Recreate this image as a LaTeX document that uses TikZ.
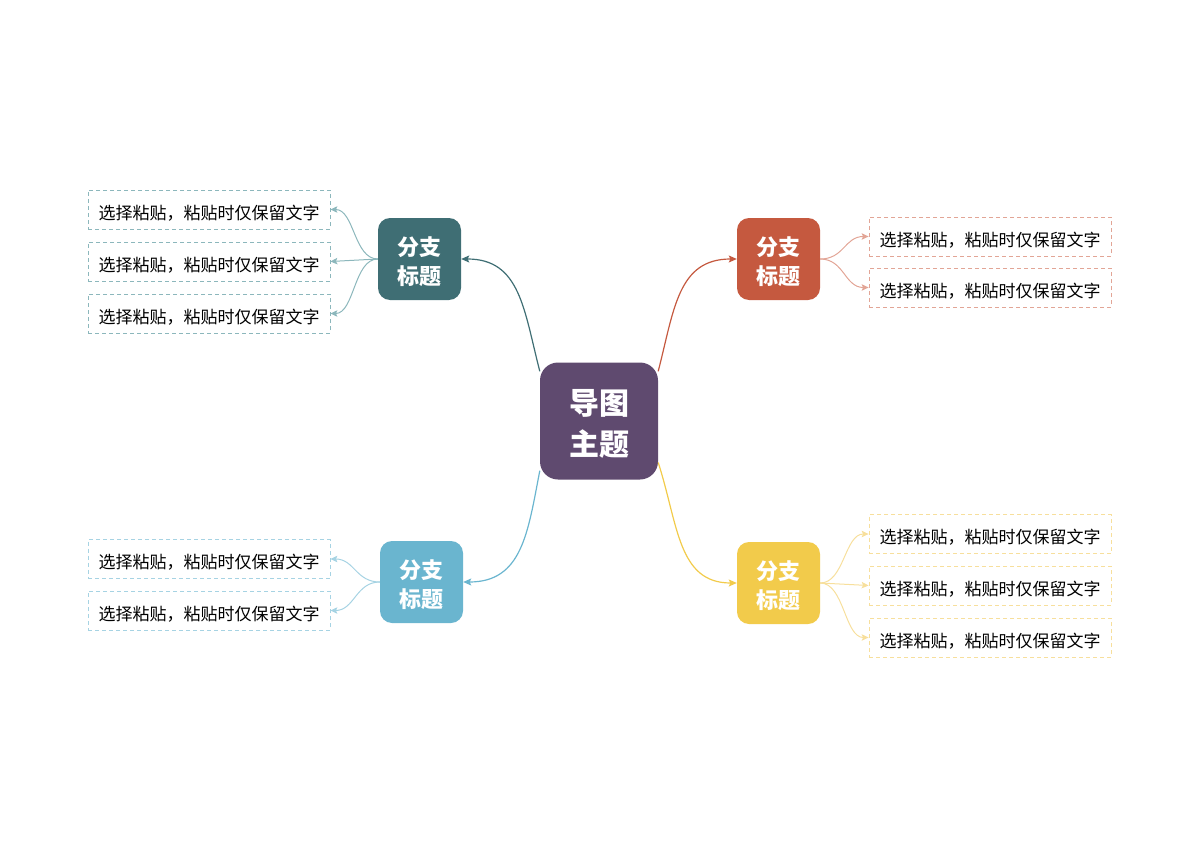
\documentclass[tikz,border=0pt]{standalone}
\usepackage{fontspec}
\setmainfont{Noto Sans CJK SC}
\usetikzlibrary{arrows.meta}

\definecolor{topicc}{HTML}{5F4A6F}
\definecolor{tealc}{HTML}{3F6E74}
\definecolor{teall}{HTML}{8CB7BC}
\definecolor{redc}{HTML}{C5593F}
\definecolor{redl}{HTML}{E2A596}
\definecolor{bluec}{HTML}{6AB5CF}
\definecolor{bluel}{HTML}{A6D3E3}
\definecolor{yelc}{HTML}{F2CB4B}
\definecolor{yell}{HTML}{F7DF9C}

\tikzstyle{topic} = [rectangle,rounded corners=18pt,fill=topicc,text=white,align=center,font=\bfseries\fontsize{30}{41}\selectfont,minimum width=118pt,minimum height=117pt,inner sep=0pt]
\tikzstyle{branch} = [rectangle,rounded corners=12pt,text=white,align=center,font=\bfseries\fontsize{22}{29}\selectfont,minimum width=83pt,minimum height=82pt,inner sep=0pt]
\tikzstyle{leaf} = [rectangle,dashed,dash pattern=on 4pt off 3pt,line width=0.8pt,font=\fontsize{17}{20}\selectfont,text height=20pt,text depth=1pt,minimum width=242pt,minimum height=39pt,inner sep=0pt]
\tikzstyle{arrow} = [line width=1.2pt,->,>={Stealth[length=8pt,width=7pt,inset=1.5pt]}]
\tikzstyle{arrowl} = [line width=1pt,->,>={Stealth[length=7pt,width=6.5pt,inset=1.5pt]}]

\begin{document}
\begin{tikzpicture}[x=1pt,y=-1pt]
\useasboundingbox (0,0) rectangle (1200,848);

% Topic
\node [topic] (topic) at (599,421) {\rule{0pt}{31.5pt}导图\\主题};

% Branches
\node [branch,fill=tealc] (b1) at (419.5,259) {\rule{0pt}{24.7pt}分支\\标题};
\node [branch,fill=redc] (b2) at (778.5,259) {\rule{0pt}{24.7pt}分支\\标题};
\node [branch,fill=bluec] (b3) at (421.5,582) {\rule{0pt}{24.7pt}分支\\标题};
\node [branch,fill=yelc] (b4) at (778.5,583) {\rule{0pt}{24.7pt}分支\\标题};

% Leaves
\node [leaf,draw=teall] (l11) at (209,209.5) {选择粘贴，粘贴时仅保留文字};
\node [leaf,draw=teall] (l12) at (209,261.5) {选择粘贴，粘贴时仅保留文字};
\node [leaf,draw=teall] (l13) at (209,313.5) {选择粘贴，粘贴时仅保留文字};
\node [leaf,draw=redl] (l21) at (990,236.5) {选择粘贴，粘贴时仅保留文字};
\node [leaf,draw=redl] (l22) at (990,287.5) {选择粘贴，粘贴时仅保留文字};
\node [leaf,draw=bluel] (l31) at (209,559) {选择粘贴，粘贴时仅保留文字};
\node [leaf,draw=bluel] (l32) at (209,610.5) {选择粘贴，粘贴时仅保留文字};
\node [leaf,draw=yell] (l41) at (990,534) {选择粘贴，粘贴时仅保留文字};
\node [leaf,draw=yell] (l42) at (990,585.5) {选择粘贴，粘贴时仅保留文字};
\node [leaf,draw=yell] (l43) at (990,637.5) {选择粘贴，粘贴时仅保留文字};

% Topic to branches
\draw [arrow,tealc] (topic.140) .. controls +(-16,-62) and +(59,0) .. (b1.east);
\draw [arrow,redc] (topic.40) .. controls +(16,-62) and +(-59,0) .. (b2.west);
\draw [arrow,bluec] (topic.220) .. controls +(-12,62) and +(59,0) .. (b3.east);
\draw [arrow,yelc] (topic.-35) .. controls +(20,62) and +(-59,0) .. (b4.west);

% Branches to leaves
\draw [arrowl,teall] (b1.west) .. controls +(-24,0) and +(24,0) .. (l11.east);
\draw [arrowl,teall] (b1.west) -- (l12.east);
\draw [arrowl,teall] (b1.west) .. controls +(-24,0) and +(24,0) .. (l13.east);
\draw [arrowl,redl] (b2.east) .. controls +(24,0) and +(-24,0) .. (l21.west);
\draw [arrowl,redl] (b2.east) .. controls +(24,0) and +(-24,0) .. (l22.west);
\draw [arrowl,bluel] (b3.west) .. controls +(-24,0) and +(24,0) .. (l31.east);
\draw [arrowl,bluel] (b3.west) .. controls +(-24,0) and +(24,0) .. (l32.east);
\draw [arrowl,yell] (b4.east) .. controls +(24,0) and +(-24,0) .. (l41.west);
\draw [arrowl,yell] (b4.east) -- (l42.west);
\draw [arrowl,yell] (b4.east) .. controls +(24,0) and +(-24,0) .. (l43.west);

\end{tikzpicture}
\end{document}
